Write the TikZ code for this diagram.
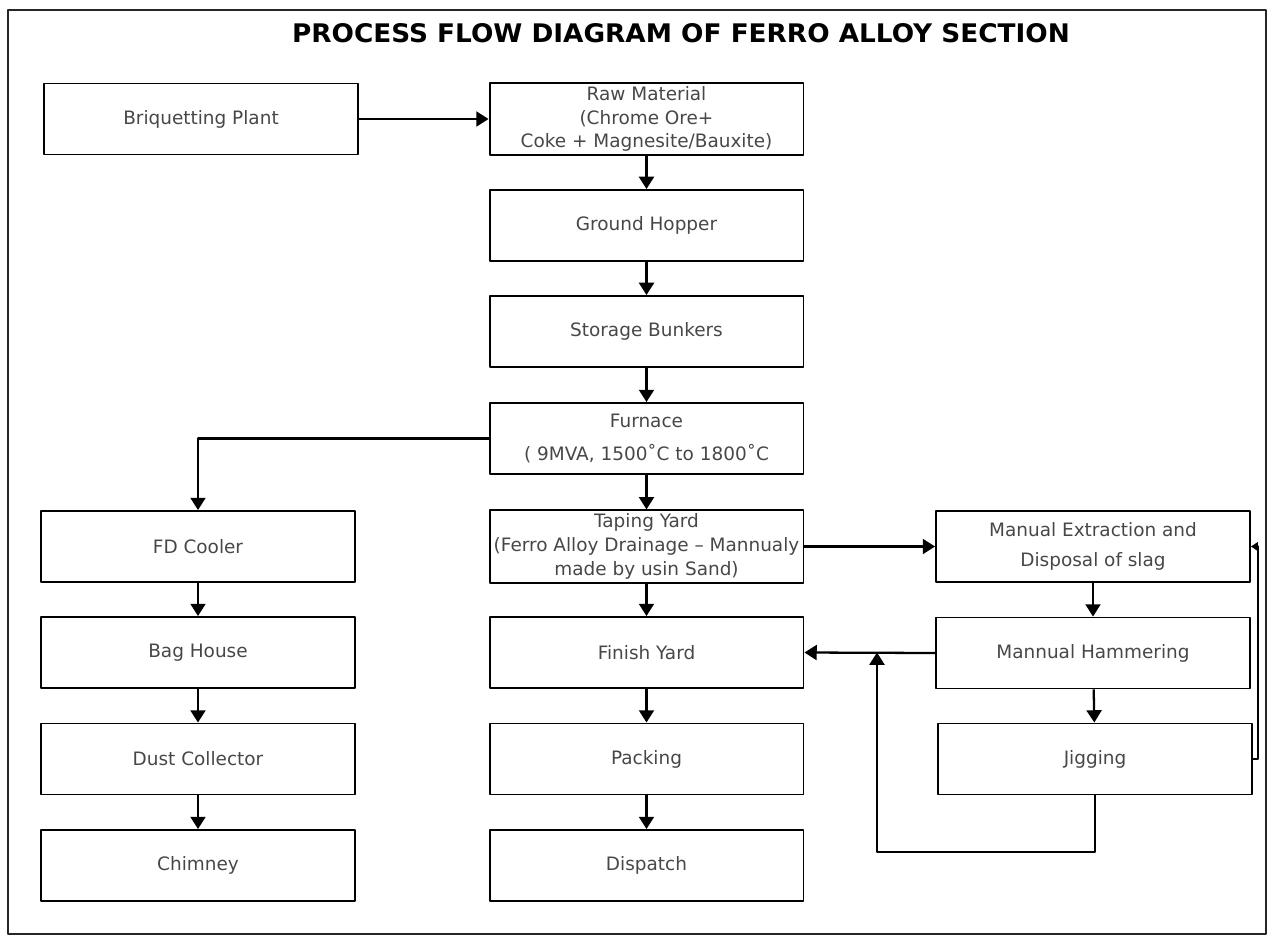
\documentclass[tikz,border=0pt]{standalone}
\usepackage{graphicx}
\usepackage{fontspec}
\setmainfont{DejaVu Sans}
\usetikzlibrary{arrows.meta}

\begin{document}
\begin{tikzpicture}[x=0.02cm, y=-0.02cm, >={Triangle[length=7pt,width=8.5pt]}, line join=round,
	box/.style={draw, line width=1.1pt, minimum width=6.28cm, minimum height=1.42cm, align=center,
		inner sep=2pt, text=black!72, font=\fontsize{10.5}{13.5}\selectfont},
	flow/.style={->, line width=1.3pt}]
	\useasboundingbox (0,0) rectangle (1271,937);
	\draw[line width=1pt, black!85] (8,10) rectangle (1266,934);
	\node (title) at (681,33) {\resizebox{15.56cm}{0.38cm}{\bfseries PROCESS FLOW DIAGRAM OF FERRO ALLOY SECTION}};
	
	\node[box] (briq) at (201,119) {Briquetting Plant};
	\node[box] (raw) at (646.5,119) {Raw Material\\ (Chrome Ore+\\Coke + Magnesite/Bauxite)};
	\node[box] (hopper) at (646.5,225.5) {Ground Hopper};
	\node[box] (bunker) at (646.5,331.5) {Storage Bunkers};
	\node[box] (furnace) at (646.5,438.5) {Furnace\\[5pt]( 9MVA, 1500˚C to 1800˚C};
	\node[box] (taping) at (646.5,546.5) {Taping Yard\\(Ferro Alloy Drainage – Mannualy\\made by usin Sand)};
	\node[box] (finish) at (646.5,652.5) {Finish Yard};
	\node[box] (packing) at (646.5,759) {Packing};
	\node[box] (dispatch) at (646.5,865.5) {Dispatch};
	
	\node[box] (cooler) at (198,546.5) {FD Cooler};
	\node[box] (baghouse) at (198,652.5) {Bag House};
	\node[box] (dust) at (198,759) {Dust Collector};
	\node[box] (chimney) at (198,865.5) {Chimney};
	
	\node[box] (slag) at (1093,546.5) {Manual Extraction and\\[4pt]Disposal of slag};
	\node[box] (hammer) at (1093,653) {Mannual Hammering};
	\node[box] (jig) at (1095,759) {Jigging};
	
	\path 
	(877,652.5) coordinate (merge)
	(877,852) coordinate (loop)
	(1258,546.5) coordinate (back)
	;
	
	\draw[flow] (briq) -- (raw);
	\draw[flow] (raw) -- (hopper);
	\draw[flow] (hopper) -- (bunker);
	\draw[flow] (bunker) -- (furnace);
	\draw[flow] (furnace) -- (taping);
	\draw[flow] (taping) -- (finish);
	\draw[flow] (finish) -- (packing);
	\draw[flow] (packing) -- (dispatch);
	\draw[flow] (furnace.west) -| (cooler.north);
	\draw[flow] (cooler) -- (baghouse);
	\draw[flow] (baghouse) -- (dust);
	\draw[flow] (dust) -- (chimney);
	\draw[flow] (taping) -- (slag);
	\draw[flow] (slag) -- (hammer);
	\draw[flow] (hammer) -- (jig);
	\draw[flow] (hammer.west) -- (finish.east);
	\draw[flow] (jig.south) |- (loop) -- (merge);
	\draw[line width=1.3pt, -{Triangle[length=4pt,width=5pt]}] (jig.east) -| (back) -- (slag.east);
\end{tikzpicture}
\end{document}
